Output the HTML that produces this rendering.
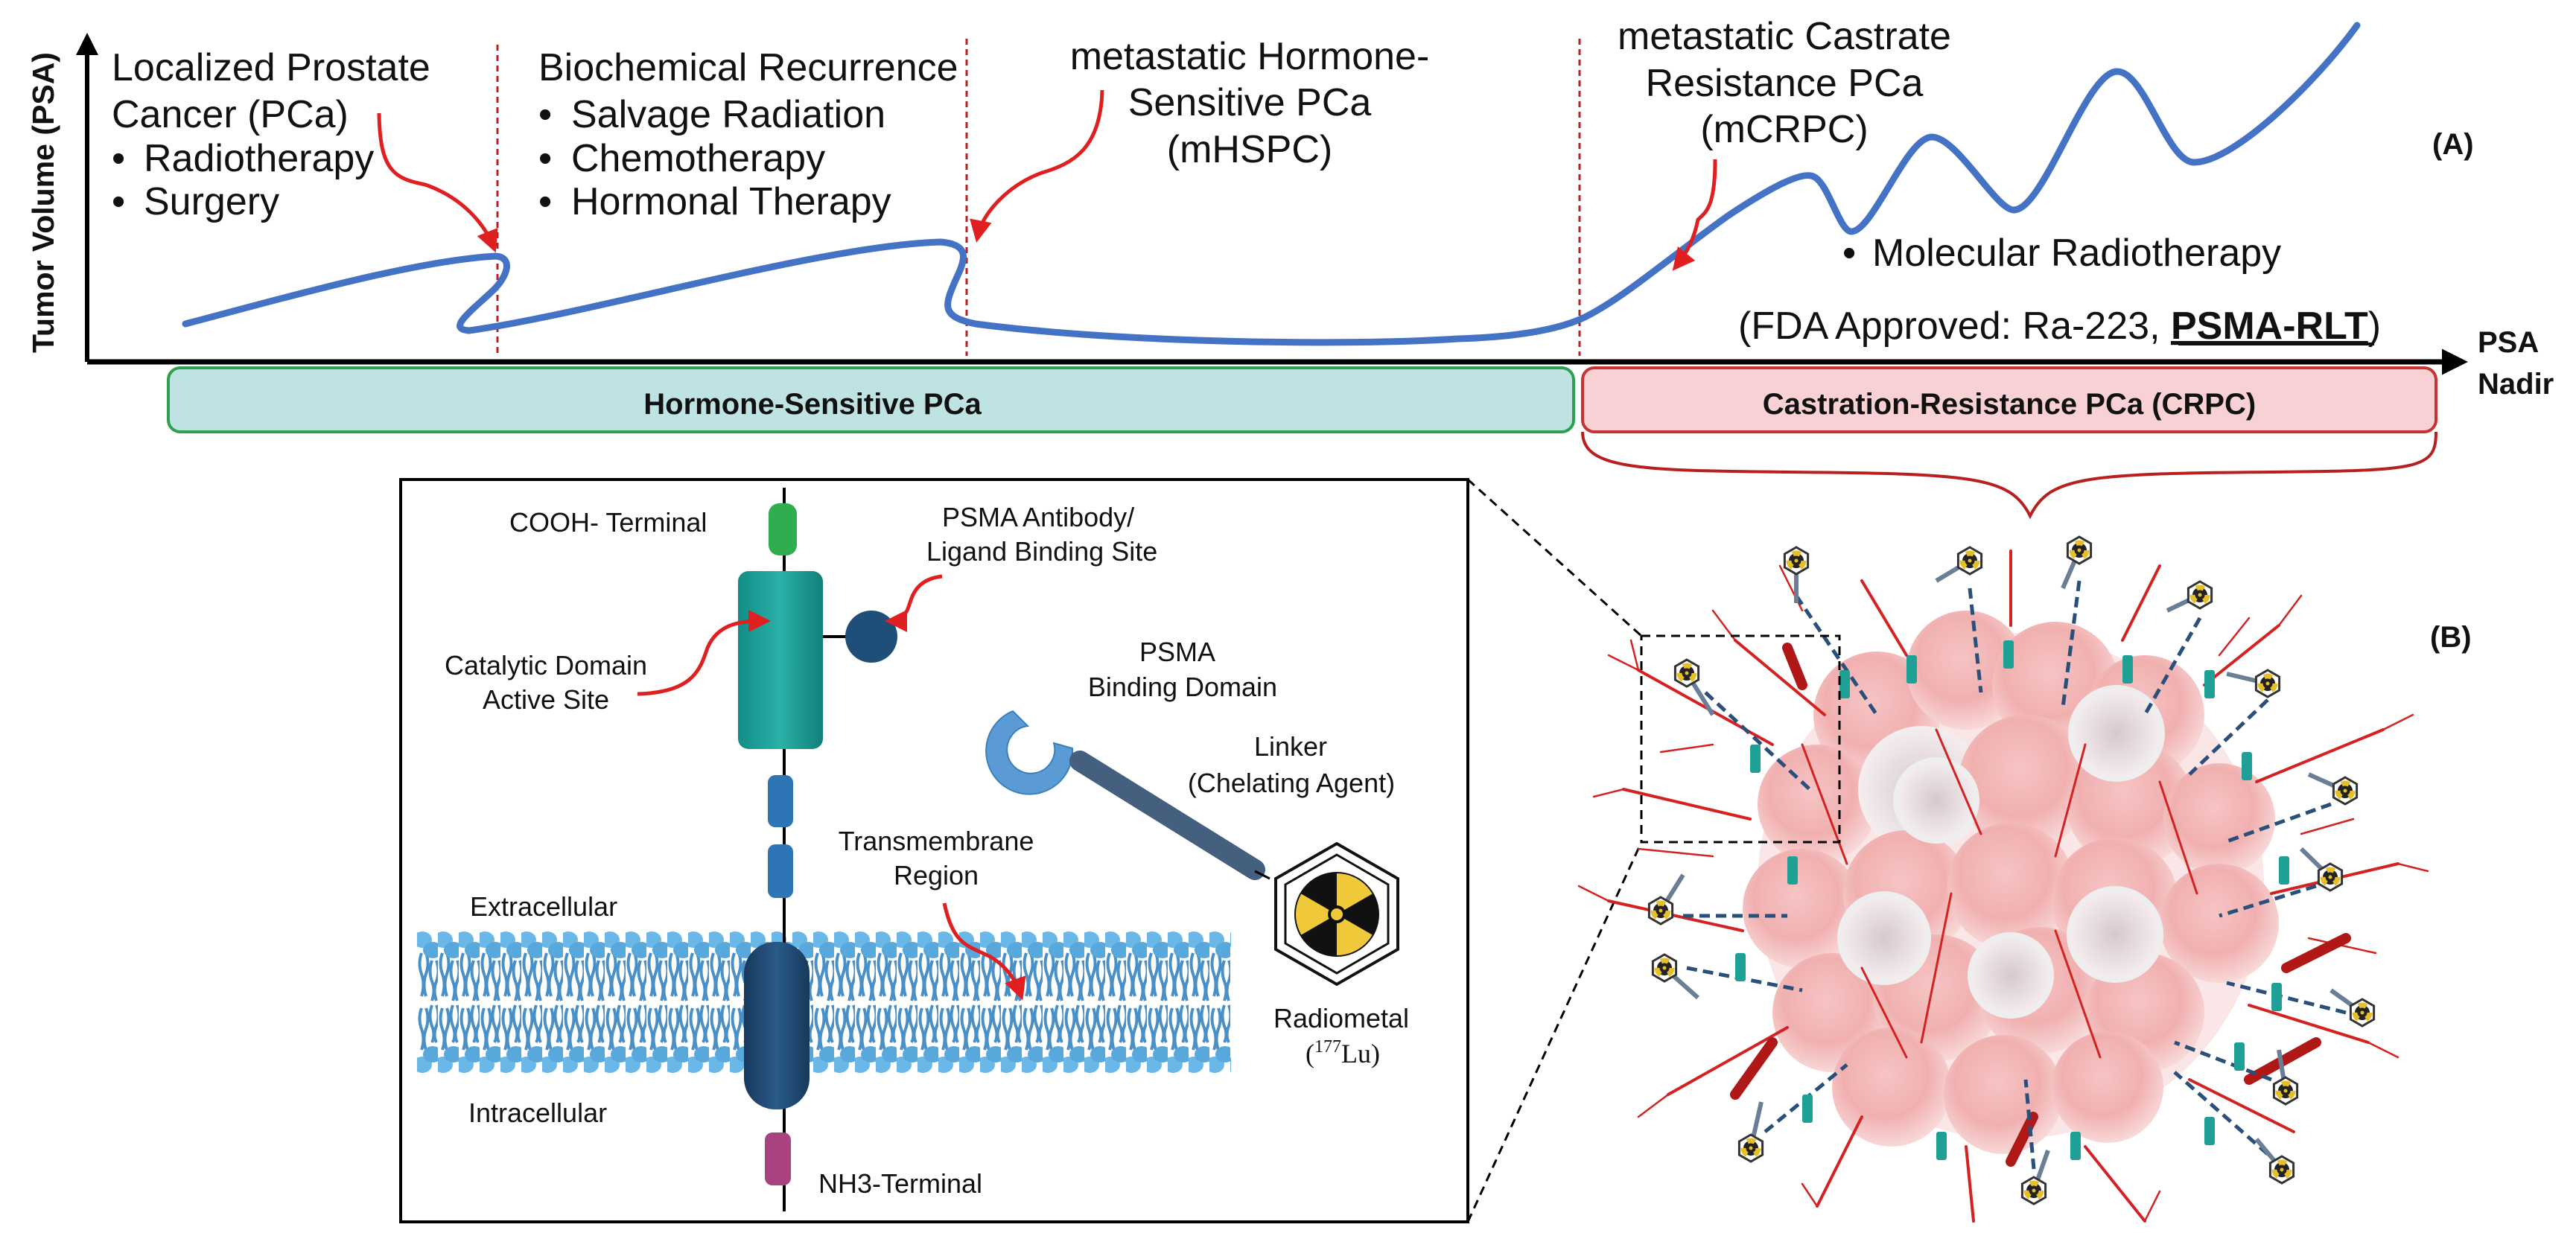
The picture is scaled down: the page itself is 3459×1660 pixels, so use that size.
<!DOCTYPE html>
<html><head><meta charset="utf-8"><style>
html,body{margin:0;padding:0;background:#fff}
svg{display:block}
text{font-family:"Liberation Sans",Arial,sans-serif;fill:#111}
</style></head><body>
<svg width="3459" height="1660" viewBox="0 0 3459 1660" xmlns="http://www.w3.org/2000/svg">
<defs>
<marker id="ah" markerWidth="6" markerHeight="6" refX="4" refY="3" orient="auto" markerUnits="strokeWidth"><path d="M0,0 L6,3 L0,6 z" fill="#e02020"/></marker>
<marker id="ax" markerWidth="5" markerHeight="5" refX="3" refY="2.5" orient="auto" markerUnits="strokeWidth"><path d="M0,0 L5,2.5 L0,5 z" fill="#000"/></marker>
<radialGradient id="cell" cx="0.45" cy="0.4" r="0.6"><stop offset="0" stop-color="#f6c4c4"/><stop offset="0.6" stop-color="#f1b0b0"/><stop offset="1" stop-color="#f8d8d8"/></radialGradient>
<radialGradient id="wcell" cx="0.5" cy="0.5" r="0.6"><stop offset="0" stop-color="#d8c8cc"/><stop offset="0.6" stop-color="#ece4e6"/><stop offset="1" stop-color="#fbf5f6"/></radialGradient>
<linearGradient id="teal" x1="0" x2="1"><stop offset="0" stop-color="#138d88"/><stop offset="0.5" stop-color="#2bb0a8"/><stop offset="1" stop-color="#117f7a"/></linearGradient>
<linearGradient id="dk" x1="0" x2="1"><stop offset="0" stop-color="#17395c"/><stop offset="0.5" stop-color="#2a5a88"/><stop offset="1" stop-color="#17395c"/></linearGradient>
<pattern id="lip" x="560" y="1250" width="28" height="192" patternUnits="userSpaceOnUse">
<path d="M6,30 q-5,14 0,28 q5,14 0,30 M12,30 q5,14 0,28 q-5,14 0,30 M20,40 q-5,14 0,28 q5,12 0,26 M26,40 q5,14 0,28 q-5,12 0,26" stroke="#4a90c8" stroke-width="4" fill="none"/>
<path d="M6,104 q-5,14 0,28 q5,14 0,28 M12,104 q5,14 0,28 q-5,14 0,28 M20,100 q-5,14 0,28 q5,12 0,22 M26,100 q5,14 0,28 q-5,12 0,22" stroke="#4a90c8" stroke-width="4" fill="none"/>
<ellipse cx="7" cy="12" rx="13" ry="11" fill="#6ab8e8"/><ellipse cx="21" cy="26" rx="13" ry="11" fill="#58a8dc"/>
<ellipse cx="7" cy="180" rx="13" ry="11" fill="#6ab8e8"/><ellipse cx="21" cy="166" rx="13" ry="11" fill="#58a8dc"/>
</pattern>
<g id="hex"><polygon points="0,-18 15.6,-9 15.6,9 0,18 -15.6,9 -15.6,-9" fill="#fff" stroke="#333" stroke-width="3"/><circle r="10" fill="#222"/><circle r="10" fill="none" stroke="#e6c02a" stroke-width="7" stroke-dasharray="10.5 10.5"/><circle r="2.5" fill="#e6c02a"/></g>
</defs>

<line x1="117" y1="486" x2="117" y2="56" stroke="#000" stroke-width="6" marker-end="url(#ax)"/>
<line x1="117" y1="486" x2="3300" y2="486" stroke="#000" stroke-width="7" marker-end="url(#ax)"/>
<text transform="translate(72,272) rotate(-90)" text-anchor="middle" font-size="41" font-weight="bold">Tumor Volume (PSA)</text>

<g stroke="#b52020" stroke-width="3" stroke-dasharray="8 6">
<line x1="668" y1="60" x2="668" y2="480"/>
<line x1="1298" y1="52" x2="1298" y2="478"/>
<line x1="2121" y1="52" x2="2121" y2="478"/>
</g>

<path d="M249,435 C400,395 560,350 665,344 C690,345 682,372 660,392 C630,420 600,442 630,444 C800,420 1100,330 1263,325 C1300,328 1298,345 1285,372 C1268,410 1262,425 1310,435 C1500,460 1800,465 1958,455 C2050,452 2100,440 2130,425 C2180,400 2250,340 2320,290 C2380,250 2420,230 2435,237 C2455,245 2470,311 2486,311 C2515,311 2560,184 2594,184 C2628,184 2680,282 2704,282 C2745,282 2800,96 2843,96 C2880,96 2910,218 2946,218 C3000,218 3110,110 3165,34" fill="none" stroke="#4472c4" stroke-width="9" stroke-linecap="round"/>

<g fill="none" stroke="#e02020" stroke-width="5">
<path d="M509,152 C510,230 530,240 571,248 C620,265 650,300 662,330" marker-end="url(#ah)"/>
<path d="M1480,121 C1478,200 1440,220 1399,232 C1350,250 1318,290 1313,316" marker-end="url(#ah)"/>
<path d="M2303,214 C2303,280 2290,285 2280,295 C2275,320 2265,340 2252,356" marker-end="url(#ah)"/>
</g>

<g font-size="52">
<text x="150" y="108">Localized Prostate</text>
<text x="150" y="171">Cancer (PCa)</text>
<text x="150" y="230">•</text><text x="193" y="230">Radiotherapy</text>
<text x="150" y="288">•</text><text x="193" y="288">Surgery</text>
<text x="723" y="108">Biochemical Recurrence</text>
<text x="723" y="171">•</text><text x="767" y="171">Salvage Radiation</text>
<text x="723" y="230">•</text><text x="767" y="230">Chemotherapy</text>
<text x="723" y="288">•</text><text x="767" y="288">Hormonal Therapy</text>
<text x="1678" y="93" text-anchor="middle">metastatic Hormone-</text>
<text x="1678" y="155" text-anchor="middle">Sensitive PCa</text>
<text x="1678" y="218" text-anchor="middle">(mHSPC)</text>
<text x="2396" y="66" text-anchor="middle">metastatic Castrate</text>
<text x="2396" y="129" text-anchor="middle">Resistance PCa</text>
<text x="2396" y="191" text-anchor="middle">(mCRPC)</text>
<text x="2474" y="357">•</text><text x="2514" y="357">Molecular Radiotherapy</text>
<text x="2334" y="455">(FDA Approved: Ra-223, <tspan font-weight="bold" text-decoration="underline">PSMA-RLT</tspan>)</text>
</g>
<line x1="2925" y1="462" x2="3188" y2="462" stroke="#111" stroke-width="4"/>
<text x="3266" y="207" font-size="40" font-weight="bold">(A)</text>
<text x="3327" y="473" font-size="40" font-weight="bold">PSA</text>
<text x="3327" y="529" font-size="40" font-weight="bold">Nadir</text>

<rect x="226" y="494" width="1887" height="86" rx="16" fill="#bfe3e2" stroke="#2fa050" stroke-width="4"/>
<text x="1091" y="556" font-size="40" font-weight="bold" text-anchor="middle">Hormone-Sensitive PCa</text>
<rect x="2125" y="494" width="1146" height="86" rx="16" fill="#f8d1d4" stroke="#c83232" stroke-width="4"/>
<text x="2698" y="556" font-size="40" font-weight="bold" text-anchor="middle">Castration-Resistance PCa (CRPC)</text>
<path d="M2125,580 C2125,630 2200,632 2400,634 C2650,636 2700,640 2726,693 C2752,640 2800,636 3050,634 C3250,632 3271,630 3271,580" fill="none" stroke="#b82020" stroke-width="4"/>

<rect x="538" y="644" width="1433" height="997" fill="#fff" stroke="#000" stroke-width="4"/>
<g stroke="#000" stroke-width="3" stroke-dasharray="12 8" fill="none">
<line x1="1971" y1="644" x2="2204" y2="854"/>
<line x1="1971" y1="1641" x2="2204" y2="1131"/>
</g>

<rect x="560" y="1250" width="1093" height="192" fill="url(#lip)"/>

<line x1="1053" y1="655" x2="1053" y2="1627" stroke="#000" stroke-width="4"/>
<rect x="1032" y="676" width="38" height="70" rx="14" fill="#2eae4e"/>
<rect x="991" y="767" width="114" height="239" rx="14" fill="url(#teal)"/>
<line x1="1105" y1="855" x2="1140" y2="855" stroke="#000" stroke-width="4"/>
<ellipse cx="1170" cy="855" rx="35" ry="35" fill="#1f4e79"/>
<rect x="1031" y="1041" width="34" height="70" rx="10" fill="#2e75b6"/>
<rect x="1031" y="1134" width="34" height="72" rx="10" fill="#2e75b6"/>
<rect x="999" y="1265" width="88" height="225" rx="42" fill="url(#dk)"/>
<rect x="1027" y="1521" width="35" height="71" rx="10" fill="#a8437f"/>

<g fill="none" stroke="#e02020" stroke-width="5">
<path d="M856,932 C930,930 940,900 950,870 C965,835 1000,834 1025,834" marker-end="url(#ah)"/>
<path d="M1265,774 C1230,778 1225,800 1220,815 C1215,830 1205,834 1198,834" marker-end="url(#ah)"/>
<path d="M1268,1213 C1280,1270 1300,1270 1330,1285 C1355,1300 1365,1320 1370,1334" marker-end="url(#ah)"/>
</g>

<g font-size="36">
<text x="684" y="714">COOH- Terminal</text>
<text x="1265" y="707">PSMA Antibody/</text>
<text x="1244" y="753">Ligand Binding Site</text>
<text x="733" y="906" text-anchor="middle">Catalytic Domain</text>
<text x="733" y="952" text-anchor="middle">Active Site</text>
<text x="1257" y="1142" text-anchor="middle">Transmembrane</text>
<text x="1257" y="1188" text-anchor="middle">Region</text>
<text x="631" y="1230">Extracellular</text>
<text x="629" y="1507">Intracellular</text>
<text x="1099" y="1602">NH3-Terminal</text>
<text x="1581" y="888" text-anchor="middle">PSMA</text>
<text x="1588" y="935" text-anchor="middle">Binding Domain</text>
<text x="1733" y="1015" text-anchor="middle">Linker</text>
<text x="1734" y="1064" text-anchor="middle">(Chelating Agent)</text>
<text x="1801" y="1380" text-anchor="middle">Radiometal</text>
</g>
<text x="1803" y="1427" text-anchor="middle" font-size="36" style="font-family:'Liberation Serif',serif">(<tspan font-size="24" dy="-14">177</tspan><tspan dy="14">Lu)</tspan></text>

<path d="M1360,955 A58,58 0 1,0 1440,1005 L1415,998 A32,32 0 1,1 1380,975 Z" fill="#5b9bd5" stroke="#3d7fb8" stroke-width="2"/>
<line x1="1440" y1="1012" x2="1450" y2="1020" stroke="#000" stroke-width="3"/>
<line x1="1450" y1="1022" x2="1685" y2="1168" stroke="#44607e" stroke-width="28" stroke-linecap="round"/>
<line x1="1685" y1="1170" x2="1705" y2="1180" stroke="#000" stroke-width="3"/>
<polygon points="1795,1133 1877,1180 1877,1275 1795,1322 1713,1275 1713,1180" fill="#fff" stroke="#111" stroke-width="4"/>
<polygon points="1795,1148 1864,1188 1864,1267 1795,1307 1726,1267 1726,1188" fill="#fff" stroke="#111" stroke-width="3"/>
<circle cx="1795" cy="1228" r="57" fill="#111"/>
<circle cx="1795" cy="1228" r="33" fill="none" stroke="#f0c93a" stroke-width="44" stroke-dasharray="34.5 34.5" transform="rotate(-90 1795 1228)"/>
<circle cx="1795" cy="1228" r="12" fill="#111"/>
<circle cx="1795" cy="1228" r="8" fill="#f0c93a"/>

<g>
<circle cx="2700" cy="1190" r="340" fill="#f7d6d6" opacity="0.6"/>
<circle cx="2520" cy="960" r="85" fill="url(#cell)"/>
<circle cx="2640" cy="900" r="80" fill="url(#cell)"/>
<circle cx="2760" cy="920" r="85" fill="url(#cell)"/>
<circle cx="2880" cy="960" r="80" fill="url(#cell)"/>
<circle cx="2440" cy="1080" r="80" fill="url(#cell)"/>
<circle cx="2580" cy="1060" r="85" fill="url(#wcell)"/>
<circle cx="2720" cy="1050" r="90" fill="url(#cell)"/>
<circle cx="2860" cy="1080" r="85" fill="url(#cell)"/>
<circle cx="2980" cy="1100" r="75" fill="url(#cell)"/>
<circle cx="2420" cy="1220" r="80" fill="url(#cell)"/>
<circle cx="2560" cy="1200" r="85" fill="url(#cell)"/>
<circle cx="2700" cy="1190" r="85" fill="url(#cell)"/>
<circle cx="2840" cy="1210" r="85" fill="url(#cell)"/>
<circle cx="2980" cy="1240" r="80" fill="url(#cell)"/>
<circle cx="2460" cy="1360" r="80" fill="url(#cell)"/>
<circle cx="2600" cy="1340" r="85" fill="url(#cell)"/>
<circle cx="2740" cy="1330" r="85" fill="url(#cell)"/>
<circle cx="2880" cy="1360" r="80" fill="url(#cell)"/>
<circle cx="2540" cy="1460" r="80" fill="url(#cell)"/>
<circle cx="2690" cy="1470" r="80" fill="url(#cell)"/>
<circle cx="2830" cy="1460" r="75" fill="url(#cell)"/>
<circle cx="2842" cy="985" r="62" fill="url(#wcell)" stroke="#eee" stroke-width="6"/>
<circle cx="2530" cy="1260" r="60" fill="url(#wcell)" stroke="#eee" stroke-width="6"/>
<circle cx="2840" cy="1255" r="62" fill="url(#wcell)" stroke="#eee" stroke-width="6"/>
<circle cx="2600" cy="1075" r="55" fill="url(#wcell)" stroke="#eee" stroke-width="6"/>
<circle cx="2700" cy="1310" r="55" fill="url(#wcell)" stroke="#eee" stroke-width="6"/>
</g>
<g fill="none" stroke="#d42222" stroke-width="4" stroke-linecap="round">
<path d="M2380,1000 L2200,900 M2350,1100 L2180,1060 M2340,1250 L2160,1210 M2400,1380 L2240,1470 M2500,1500 L2440,1620 M2640,1540 L2650,1640 M2800,1540 L2880,1640 M2940,1450 L3080,1520 M3020,1350 L3180,1400 M3050,1200 L3220,1160 M3030,1050 L3200,980 M2960,920 L3060,840 M2850,860 L2900,760 M2700,840 L2700,740 M2560,880 L2500,780 M2450,960 L2330,860"/>
<path d="M2420,1000 L2480,1160 M2600,980 L2660,1120 M2800,1000 L2760,1150 M2900,1050 L2950,1200 M2500,1300 L2560,1420 M2760,1250 L2820,1420 M2620,1200 L2580,1400" stroke-width="3"/>
<path d="M2200,900 L2160,880 M2200,900 L2190,860 M2180,1060 L2140,1070 M2160,1210 L2120,1190 M3200,980 L3240,960 M3220,1160 L3260,1170 M3180,1400 L3220,1420 M2330,860 L2300,820 M3060,840 L3090,800 M2240,1470 L2200,1500 M2880,1640 L2900,1600 M2440,1620 L2420,1590 M2300,1000 L2230,1010 M3100,1260 L3190,1280 M2300,1150 L2200,1140 M2420,820 L2390,760 M2980,880 L3020,830 M3090,1120 L3160,1100" stroke-width="2.5"/>
<path d="M2330,1470 L2380,1400 M2700,1560 L2730,1500 M3020,1450 L3110,1400 M3070,1300 L3150,1260 M2420,920 L2400,870" stroke="#b01818" stroke-width="14"/>
</g>
<g stroke="#2a4f7a" stroke-width="5" stroke-dasharray="14 8">
<path d="M2412,800 L2520,960 M2645,790 L2660,930 M2792,780 L2770,950 M2954,830 L2880,960 M3045,940 L2940,1040 M2290,930 L2430,1060 M3130,1080 L2990,1130 M3110,1190 L2980,1230 M2260,1230 L2400,1230 M2265,1300 L2420,1330 M3150,1360 L2990,1320 M3050,1450 L2920,1400 M2370,1520 L2480,1430 M2731,1570 L2720,1450 M3045,1550 L2920,1440"/>
</g>
<g fill="#1fa097">
<rect x="2470" y="900" width="14" height="38" rx="3"/><rect x="2690" y="860" width="14" height="38" rx="3"/><rect x="2850" y="880" width="14" height="38" rx="3"/><rect x="2960" y="900" width="14" height="38" rx="3"/><rect x="3010" y="1010" width="14" height="38" rx="3"/><rect x="2350" y="1000" width="14" height="38" rx="3"/><rect x="3060" y="1150" width="14" height="38" rx="3"/><rect x="2330" y="1280" width="14" height="38" rx="3"/><rect x="3050" y="1320" width="14" height="38" rx="3"/><rect x="2420" y="1470" width="14" height="38" rx="3"/><rect x="2600" y="1520" width="14" height="38" rx="3"/><rect x="2780" y="1520" width="14" height="38" rx="3"/><rect x="2960" y="1500" width="14" height="38" rx="3"/><rect x="2560" y="880" width="14" height="38" rx="3"/><rect x="2400" y="1150" width="14" height="38" rx="3"/><rect x="3000" y="1400" width="14" height="38" rx="3"/>
</g>
<g stroke="#6a7f95" stroke-width="6">
<line x1="2412" y1="753" x2="2412" y2="810"/><line x1="2645" y1="753" x2="2600" y2="780"/><line x1="2792" y1="739" x2="2770" y2="790"/><line x1="2954" y1="799" x2="2910" y2="820"/><line x1="3045" y1="918" x2="2990" y2="905"/><line x1="2265" y1="904" x2="2300" y2="960"/><line x1="3149" y1="1062" x2="3100" y2="1040"/><line x1="3129" y1="1178" x2="3090" y2="1140"/><line x1="2230" y1="1223" x2="2260" y2="1175"/><line x1="2235" y1="1300" x2="2280" y2="1340"/><line x1="3172" y1="1360" x2="3130" y2="1330"/><line x1="3069" y1="1465" x2="3060" y2="1410"/><line x1="2351" y1="1542" x2="2365" y2="1480"/><line x1="2731" y1="1599" x2="2750" y2="1545"/><line x1="3064" y1="1571" x2="3030" y2="1530"/>
</g>
<use href="#hex" x="2412" y="753"/><use href="#hex" x="2645" y="753"/><use href="#hex" x="2792" y="739"/><use href="#hex" x="2954" y="799"/><use href="#hex" x="3045" y="918"/><use href="#hex" x="2265" y="904"/><use href="#hex" x="3149" y="1062"/><use href="#hex" x="3129" y="1178"/><use href="#hex" x="2230" y="1223"/><use href="#hex" x="2235" y="1300"/><use href="#hex" x="3172" y="1360"/><use href="#hex" x="3069" y="1465"/><use href="#hex" x="2351" y="1542"/><use href="#hex" x="2731" y="1599"/><use href="#hex" x="3064" y="1571"/>
<rect x="2204" y="854" width="266" height="277" fill="none" stroke="#000" stroke-width="3" stroke-dasharray="12 8"/>
<text x="3263" y="869" font-size="40" font-weight="bold">(B)</text>
</svg>
</body></html>
